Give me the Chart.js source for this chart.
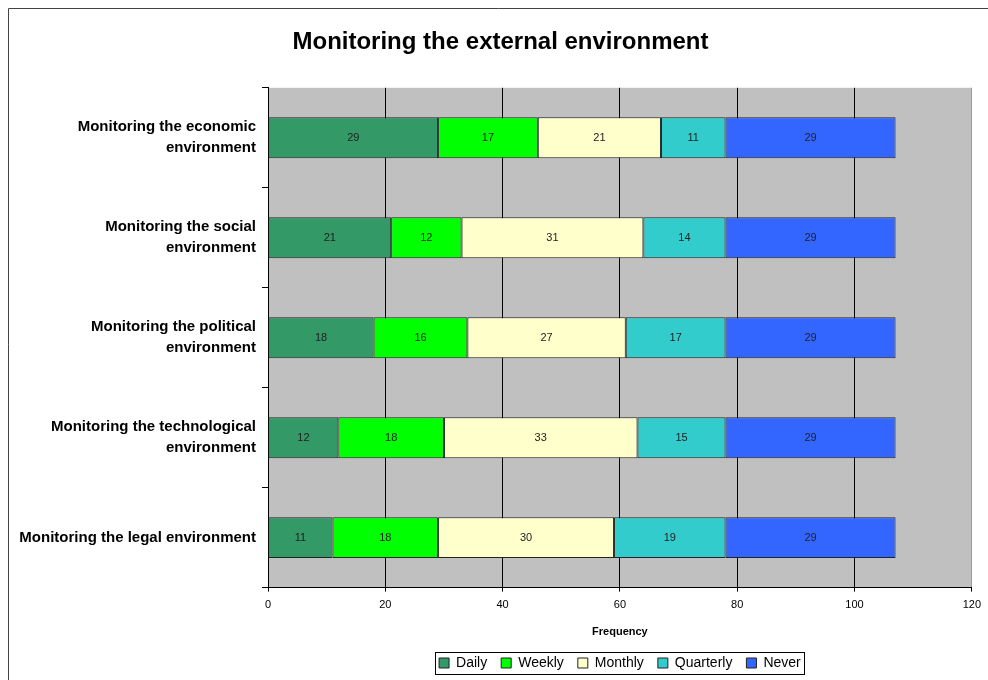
<!DOCTYPE html>
<html>
<head>
<meta charset="utf-8">
<script src="https://cdn.jsdelivr.net/npm/chart.js@4"></script>
<style>
  body { margin: 0; background: #fff; }
  #wrap { position: relative; width: 988px; height: 680px; }
</style>
</head>
<body>
<div id="wrap"><canvas id="myChart" width="988" height="680"></canvas></div>
<script>
// category labels (multi-line like the original)
const categories = [
    ['Monitoring the economic', 'environment'],
    ['Monitoring the social', 'environment'],
    ['Monitoring the political', 'environment'],
    ['Monitoring the technological', 'environment'],
    'Monitoring the legal environment'
];

// counts per frequency
const daily     = [29, 21, 18, 12, 11];
const weekly    = [17, 12, 16, 18, 18];
const monthly   = [21, 31, 27, 33, 30];
const quarterly = [11, 14, 17, 15, 19];
const never     = [29, 29, 29, 29, 29];

const xTicks = [0, 20, 40, 60, 80, 100, 120];

const seriesNames = ['Daily', 'Weekly', 'Monthly', 'Quarterly', 'Never'];
const seriesColors = ['#339966', '#00ff00', '#ffffcc', '#33cccc', '#3366ff'];
const seriesData = [daily, weekly, monthly, quarterly, never];

// gray plot background + outer frame + legend box
const decorPlugin = {
    id: 'decor',
    afterLayout(chart) {
        // the original title sits a bit right of the page centre
        const t = chart.titleBlock;
        if (t) { t.left += 12; t.right += 12; }
    },
    beforeDraw(chart) {
        const c = chart.ctx, a = chart.chartArea;
        c.save();
        c.fillStyle = '#c0c0c0';
        c.fillRect(a.left, a.top, a.right - a.left, a.bottom - a.top);
        c.strokeStyle = '#444';
        c.lineWidth = 1;
        c.beginPath();
        c.moveTo(8.5, 680);
        c.lineTo(8.5, 8.5);
        c.lineTo(988, 8.5);
        c.stroke();
        c.restore();
    },
    afterDraw(chart) {
        const c = chart.ctx, lg = chart.legend;
        if (!lg || !lg.legendHitBoxes.length) return;
        const boxes = lg.legendHitBoxes;
        const first = boxes[0], last = boxes[boxes.length - 1];
        const x0 = first.left - 4, x1 = last.left + last.width + 3;
        const y0 = first.top - 4, y1 = first.top + first.height + 4;
        c.save();
        c.strokeStyle = '#000';
        c.lineWidth = 1;
        c.strokeRect(Math.round(x0) + 0.5, Math.round(y0) + 0.5, Math.round(x1 - x0), Math.round(y1 - y0));
        c.restore();
    }
};

// value labels in the middle of every segment
const segmentLabels = {
    id: 'segmentLabels',
    afterDatasetsDraw(chart) {
        const c = chart.ctx;
        c.save();
        c.font = '11px Arial, "Liberation Sans"';
        c.fillStyle = '#222';
        c.textAlign = 'center';
        c.textBaseline = 'middle';
        chart.data.datasets.forEach((ds, i) => {
            chart.getDatasetMeta(i).data.forEach((bar, j) => {
                const p = bar.getProps(['x', 'y', 'base'], true);
                c.fillText(ds.data[j], (p.x + p.base) / 2, p.y);
            });
        });
        c.restore();
    }
};

const ctx = document.getElementById('myChart');

new Chart(ctx, {
    type: 'bar',
    data: {
        labels: categories,
        datasets: seriesNames.map((name, i) => ({
            label: name,
            data: seriesData[i],
            backgroundColor: seriesColors[i],
            borderColor: '#222',
            borderWidth: 1,
            borderSkipped: false,
            categoryPercentage: 1,
            barPercentage: 0.41
        }))
    },
    options: {
        indexAxis: 'y',
        responsive: false,
        animation: false,
        layout: { padding: { left: 5, right: 16, top: 20, bottom: 0 } },
        scales: {
            x: {
                stacked: true,
                min: 0,
                max: 120,
                afterBuildTicks(axis) {
                    axis.ticks = xTicks.map(v => ({ value: v }));
                },
                grid: {
                    color: c => (c.tick && c.tick.value === 120) ? '#9a9a9a' : '#000',
                    tickColor: '#000',
                    tickLength: 4,
                    lineWidth: 1
                },
                border: { display: true, color: '#000', width: 1 },
                ticks: {
                    color: '#000',
                    font: { family: 'Arial, "Liberation Sans"', size: 11 },
                    padding: 7
                },
                title: {
                    display: true,
                    text: 'Frequency',
                    color: '#000',
                    font: { family: 'Arial, "Liberation Sans"', size: 11, weight: 'bold' },
                    padding: { top: 7, bottom: 3 }
                }
            },
            y: {
                stacked: true,
                afterFit(axis) { axis.width = 263; },
                grid: {
                    offset: true,
                    drawOnChartArea: false,
                    color: '#000',
                    tickLength: 6
                },
                border: { display: true, color: '#000', width: 1 },
                ticks: {
                    color: '#000',
                    padding: 6,
                    font: { family: 'Arial, "Liberation Sans"', size: 15, weight: 'bold', lineHeight: 1.4 }
                }
            }
        },
        plugins: {
            title: {
                display: true,
                text: 'Monitoring the external environment',
                color: '#000',
                font: { family: 'Arial, "Liberation Sans"', size: 24, weight: 'bold' },
                padding: { top: 8, bottom: 31 }
            },
            legend: {
                position: 'bottom',
                fullSize: false,
                labels: {
                    color: '#000',
                    boxWidth: 10,
                    boxHeight: 10,
                    padding: 14,
                    font: { family: 'Arial, "Liberation Sans"', size: 14 }
                }
            },
            tooltip: { enabled: false }
        }
    },
    plugins: [decorPlugin, segmentLabels]
});
</script>
</body>
</html>
